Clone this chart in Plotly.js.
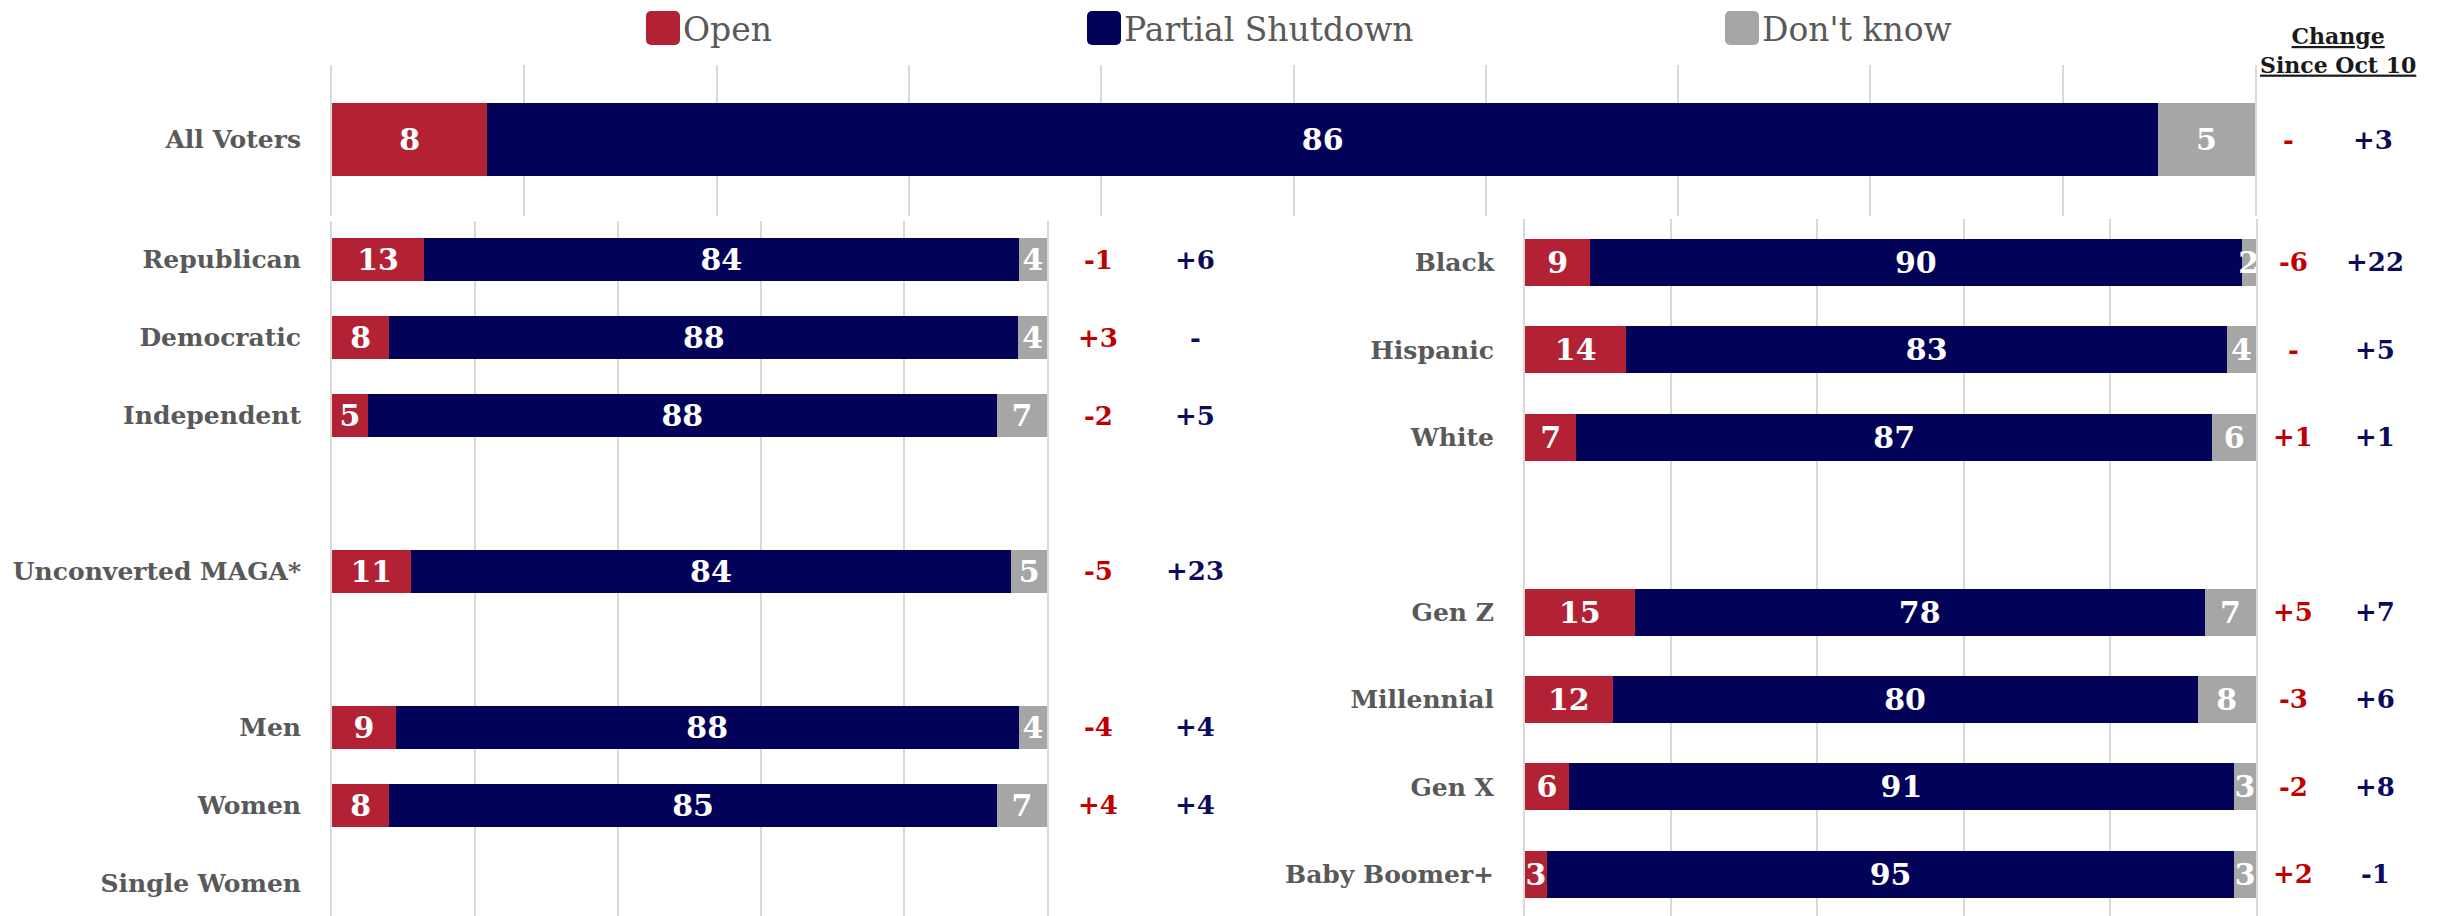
<!DOCTYPE html>
<html><head><meta charset="utf-8">
<script src="https://cdn.plot.ly/plotly-3.0.1.min.js"></script>
<style>html,body{margin:0;padding:0;background:#fff;} #chart{width:2442px;height:916px;}</style>
</head><body><div id="chart"></div>
<script>
// ---------- DATA ----------
const seriesNames = ['Open', 'Partial Shutdown', "Don't know"];
const seriesColors = ['#B22234', '#020258', '#A6A6A6'];

const topCategories = ['All Voters'];
const topOpen = [8];
const topShutdown = [86];
const topDontKnow = [5];
const topChangeOpen = ['-'];
const topChangeShutdown = ['+3'];

const leftCategories = ['Republican', 'Democratic', 'Independent', ' ', 'Unconverted MAGA*', '  ', 'Men', 'Women', 'Single Women'];
const leftOpen = [13, 8, 5, null, 11, null, 9, 8, null];
const leftShutdown = [84, 88, 88, null, 84, null, 88, 85, null];
const leftDontKnow = [4, 4, 7, null, 5, null, 4, 7, null];
const leftChangeOpen = ['-1', '+3', '-2', '', '-5', '', '-4', '+4', ''];
const leftChangeShutdown = ['+6', '-', '+5', '', '+23', '', '+4', '+4', ''];

const rightCategories = ['Black', 'Hispanic', 'White', ' ', 'Gen Z', 'Millennial', 'Gen X', 'Baby Boomer+'];
const rightOpen = [9, 14, 7, null, 15, 12, 6, 3];
const rightShutdown = [90, 83, 87, null, 78, 80, 91, 95];
const rightDontKnow = [2, 4, 6, null, 7, 8, 3, 3];
const rightChangeOpen = ['-6', '-', '+1', '', '+5', '-3', '-2', '+2'];
const rightChangeShutdown = ['+22', '+5', '+1', '', '+7', '+6', '+8', '-1'];

const changeHeaderLines = ['Change', 'Since Oct 10'];

// ---------- BUILD ----------
const W = 2442, H = 916;
const px = v => v / W;
const py = v => 1 - v / H;
const FONT = 'DejaVu Serif';
const labelGray = '#595959';
const changeRed = '#C00000';
const changeNavy = '#0B0B5C';

const panels = [
  {cats: topCategories, series: [topOpen, topShutdown, topDontKnow], xa: 'x', ya: 'y', width: 0.5,
   chg: [topChangeOpen, topChangeShutdown], chgX: [2288, 2373], legend: true},
  {cats: leftCategories, series: [leftOpen, leftShutdown, leftDontKnow], xa: 'x2', ya: 'y2', width: 0.55,
   chg: [leftChangeOpen, leftChangeShutdown], chgX: [1098, 1195], legend: false},
  {cats: rightCategories, series: [rightOpen, rightShutdown, rightDontKnow], xa: 'x3', ya: 'y3', width: 0.537,
   chg: [rightChangeOpen, rightChangeShutdown], chgX: [2293, 2375], legend: false}
];

const data = [];
const annotations = [];
panels.forEach(p => {
  p.series.forEach((vals, s) => {
    data.push({
      type: 'bar', orientation: 'h',
      name: seriesNames[s],
      y: p.cats, x: vals,
      text: vals.map(v => v == null ? '' : String(v)),
      texttemplate: '%{text}',
      textposition: 'inside', insidetextanchor: 'middle', constraintext: 'none',
      textfont: {family: FONT, size: 30, color: '#ffffff', weight: 700},
      marker: {color: seriesColors[s], line: {width: 0}},
      width: p.width,
      xaxis: p.xa, yaxis: p.ya,
      showlegend: p.legend,
      legend: s === 0 ? 'legend' : 'legend' + (s + 1),
      hoverinfo: 'skip'
    });
  });
  p.chg.forEach((col, c) => {
    col.forEach((t, i) => {
      if (!t) return;
      annotations.push({
        xref: 'paper', x: px(p.chgX[c]), xanchor: 'center',
        yref: p.ya, y: p.cats[i], yanchor: 'middle',
        text: t, showarrow: false,
        font: {family: FONT, size: 26, weight: 700, color: c === 0 ? changeRed : changeNavy}
      });
    });
  });
});

annotations.push({
  xref: 'paper', yref: 'paper', x: px(2338), y: py(50), xanchor: 'center', yanchor: 'middle',
  text: changeHeaderLines.map(l => '<u>' + l + '</u>').join('<br>'),
  showarrow: false,
  font: {family: FONT, size: 22, weight: 700, color: '#1a1a1a'}
});

const gridCol = '#d9d9d9';
const xBase = {range: [0, 100], tick0: 0, showgrid: true, gridcolor: gridCol, gridwidth: 2,
  zeroline: false, showticklabels: false, ticks: '', showline: false, fixedrange: true};
const yBase = {type: 'category', categoryorder: 'array', showgrid: false, zeroline: false,
  showline: true, mirror: true, linecolor: gridCol, linewidth: 2,
  ticks: '', ticklabelstandoff: 24, fixedrange: true,
  tickfont: {family: FONT, size: 25, weight: 700, color: labelGray}};

const legBase = {orientation: 'h', yanchor: 'middle', y: py(27), xanchor: 'left',
  font: {family: FONT, size: 33, color: labelGray}, bgcolor: 'rgba(0,0,0,0)', borderwidth: 0};

const layout = {
  width: W, height: H,
  margin: {l: 0, r: 0, t: 0, b: 0},
  paper_bgcolor: '#ffffff', plot_bgcolor: 'rgba(0,0,0,0)',
  barmode: 'stack', barnorm: 'percent',
  font: {family: FONT, color: labelGray},
  showlegend: true,
  legend: Object.assign({}, legBase, {x: px(643)}),
  legend2: Object.assign({}, legBase, {x: px(1084)}),
  legend3: Object.assign({}, legBase, {x: px(1722)}),
  xaxis: Object.assign({}, xBase, {domain: [px(332), px(2255)], dtick: 10, anchor: 'y'}),
  yaxis: Object.assign({}, yBase, {domain: [py(215), py(64)], range: [0.52, -0.51], categoryarray: topCategories, anchor: 'x'}),
  xaxis2: Object.assign({}, xBase, {domain: [px(332), px(1047)], dtick: 20, anchor: 'y2'}),
  yaxis2: Object.assign({}, yBase, {domain: [0, py(220)], range: [8.423, -0.5], categoryarray: leftCategories, anchor: 'x2'}),
  xaxis3: Object.assign({}, xBase, {domain: [px(1525), px(2256)], dtick: 20, anchor: 'y3'}),
  yaxis3: Object.assign({}, yBase, {domain: [0, py(218)], range: [7.477, -0.5], categoryarray: rightCategories, anchor: 'x3'}),
  annotations: annotations
};

Plotly.newPlot('chart', data, layout, {staticPlot: true, displayModeBar: false}).then(gd => {
  // enlarge legend swatches to rounded squares like the reference
  gd.querySelectorAll('.legendpoints path').forEach(p => {
    p.setAttribute('d', 'M-12,-17H12A5,5 0 0 1 17,-12V12A5,5 0 0 1 12,17H-12A5,5 0 0 1 -17,12V-12A5,5 0 0 1 -12,-17Z');
  });
});
</script>
</body></html>
